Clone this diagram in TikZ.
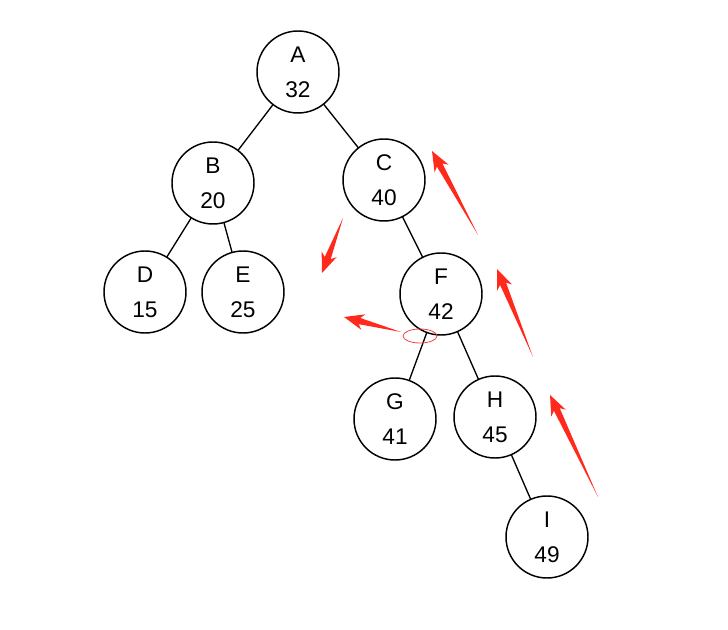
\documentclass[tikz,border=0pt]{standalone}
\usepackage{fontspec}
\setmainfont{Liberation Sans}
\usetikzlibrary{calc}
\definecolor{markred}{HTML}{FF2A1C}
\definecolor{ringred}{HTML}{EE4444}

% 红色锥形箭头：#1 尾端，#2 尖端
\newcommand{\redarrow}[2]{%
  \fill[markred] (#1)
    -- ($(#2)!12pt!(#1)!2.4pt!90:(#2)$)
    -- ($(#2)!15pt!(#1)!6pt!90:(#2)$)
    -- (#2)
    -- ($(#2)!15pt!(#1)!6pt!-90:(#2)$)
    -- ($(#2)!12pt!(#1)!2.4pt!-90:(#2)$)
    -- cycle;}

\begin{document}
\begin{tikzpicture}[x=0.75pt,y=-0.75pt,line cap=round,line join=round,
  key/.style={circle,draw=black,line width=1.1pt,minimum size=61.5pt,inner sep=0pt,
    align=center,font=\fontsize{17}{26}\selectfont},
  edge/.style={line width=1pt}]
\path[use as bounding box] (0,0) rectangle (728,630);
\fill[white] (0,0) rectangle (728,630);

% 二叉树结点
\node[key] (A) at (298,72) {A\\32};
\node[key] (B) at (213,183) {B\\20};
\node[key] (C) at (384,180) {C\\40};
\node[key] (D) at (145,292) {D\\15};
\node[key] (E) at (243,292) {E\\25};
\node[key] (F) at (441,294) {F\\42};
\node[key] (G) at (395,419) {G\\41};
\node[key] (H) at (495,417) {H\\45};
\node[key] (I) at (547,537) {I\\49};

\draw[edge] (A)--(B);
\draw[edge] (A)--(C);
\draw[edge] (B)--(D);
\draw[edge] (B)--(E);
\draw[edge] (C)--(F);
\draw[edge] (F)--(G);
\draw[edge] (F)--(H);
\draw[edge] (H)--(I);

% 标注：红圈与红色箭头
\draw[ringred,line width=0.6pt] (420,336) ellipse[x radius=17,y radius=7];
\coordinate (t1) at (478,235); \coordinate (h1) at (432,151);
\coordinate (t2) at (343,218); \coordinate (h2) at (322,273);
\coordinate (t3) at (401,332); \coordinate (h3) at (344,317);
\coordinate (t4) at (533,357); \coordinate (h4) at (497,269);
\coordinate (t5) at (598,497); \coordinate (h5) at (550,395);
\redarrow{t1}{h1}
\redarrow{t2}{h2}
\redarrow{t3}{h3}
\redarrow{t4}{h4}
\redarrow{t5}{h5}
\end{tikzpicture}
\end{document}
